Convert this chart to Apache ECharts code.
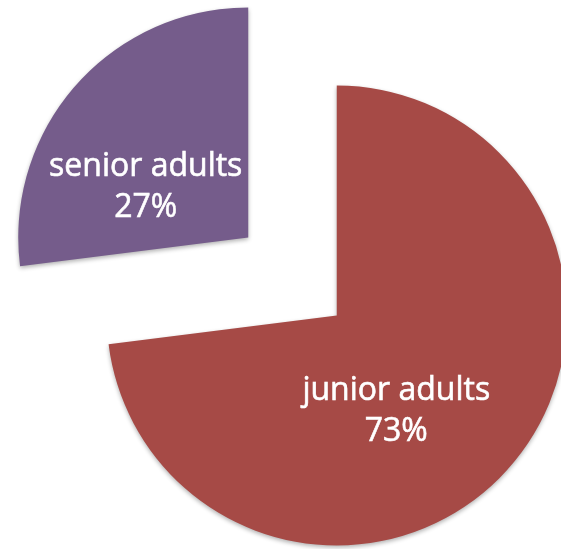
<!DOCTYPE html>
<html>
<head>
<meta charset="utf-8">
<script src="https://cdn.jsdelivr.net/npm/echarts@6/dist/echarts.min.js"></script>
<style>
  html, body { margin: 0; padding: 0; background: #fff; }
  #main { width: 561px; height: 549px; }
</style>
</head>
<body>
<div id="main"></div>
<script>
// 数据
const groups = ['junior adults', 'senior adults']
const shares = [73, 27]
const colors = ['#A64A46', '#755C8B']

// label nudges from the default inside spot
const labelDx = [-29, -14]
const labelDy = [18, 28]

const chart = echarts.init(document.getElementById('main'))

chart.setOption({
  animation: false,
  series: [
    {
      type: 'pie',
      center: [292.5, 276.5],
      radius: 230,
      startAngle: 90,
      clockwise: true,
      selectedMode: 'multiple',
      selectedOffset: 59,
      emphasis: { disabled: true },
      label: {
        position: 'inside',
        formatter: '{b}\n{d}%',
        color: '#fff',
        fontFamily: 'Open Sans',
        fontSize: 32,
        lineHeight: 41,
        align: 'center',
        textBorderColor: '#fff',
        textBorderWidth: 0.6
      },
      labelLayout: function (params) {
        return { dx: labelDx[params.dataIndex], dy: labelDy[params.dataIndex] }
      },
      itemStyle: {
        shadowBlur: 4,
        shadowOffsetY: 2,
        shadowColor: 'rgba(0, 0, 0, 0.3)'
      },
      data: groups.map((name, i) => ({
        name: name,
        value: shares[i],
        selected: true,
        itemStyle: { color: colors[i] }
      }))
    }
  ]
})
</script>
</body>
</html>
